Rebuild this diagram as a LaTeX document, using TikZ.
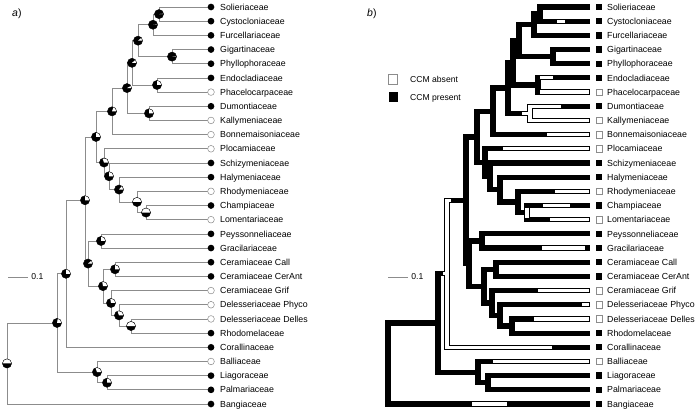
\documentclass[tikz,border=0pt]{standalone}
\usepackage{fontspec}
\setmainfont{Liberation Sans}
\usetikzlibrary{calc}

\newcommand\taxfont{\fontsize{8.8}{10}\selectfont}
\newcommand\keyfont{\fontsize{8.6}{10}\selectfont}

% positions of tips and nodes, #1 = prefix, #2 = shift
\newcommand\treecoords[2]{%
  \begin{scope}[xshift=#2]
    \foreach \i in {1,...,29}
      \coordinate (#1t\i) at (209,{7+(\i-1)*14.1786});
    \foreach \n/\nx/\ny in {A/159/14.09, B/153/24.73, D/172/56.63, C/138/40.68,
        F/157/84.98, E/132/62.83, H/149/113.34, G/127/88.09, I/112/111.35,
        O/146/212.59, N/137/201.96, M/119/189.55, L/109/176.26, K/104/162.53,
        J/96/136.94, R/101/240.95, T/115/269.3, W/131/326.02, V/119/315.39,
        U/111/302.98, S/103/286.14, Q/88/263.55, P/85/200.25, X/66/273.77,
        AA/107/382.73, Z/97/372.1, Y/57/322.94, root/7/363.47}
      \coordinate (#1\n) at (\nx,\ny);
  \end{scope}}

% one bracket per node
\newcommand\treebranches[2]{%
  \foreach \n/\a/\b in {A/t1/t2, B/A/t3, D/t4/t5, C/B/D, F/t6/t7, E/C/F,
      H/t8/t9, G/E/H, I/G/t10, O/t15/t16, N/t14/O, M/t13/N, L/t12/M,
      K/t11/L, J/I/K, R/t17/t18, T/t19/t20, W/t23/t24, V/t22/W, U/t21/V,
      S/T/U, Q/R/S, P/J/Q, X/P/t25, AA/t27/t28, Z/t26/AA, Y/X/Z, root/Y/t29}
    \draw[#2] (#1\a) -- (#1\n |- #1\a) -- (#1\n |- #1\b) -- (#1\b);}

\tikzset{
  branch/.style={draw=black!45, line width=0.7pt, line join=miter},
  mapbranch/.style={draw=black, line width=5.2pt, line join=miter},
  absent/.style={draw=white, line width=3.2pt, line join=miter},
  taxon/.style={anchor=base west, inner sep=0pt, font=\taxfont},
  tipdot/.style={circle, inner sep=0pt, minimum size=6.7pt, line width=0.5pt},
  tipsq/.style={rectangle, inner sep=0pt, minimum size=6.4pt, line width=0.5pt},
  keybox/.style={rectangle, inner sep=0pt, minimum width=9pt, minimum height=10pt, line width=0.5pt},
  state1/.style={fill=black},
  state0/.style={fill=white, draw=black!45},
  panel/.style={anchor=base west, inner sep=0pt, font=\fontsize{10.5}{12}\selectfont}
}

\begin{document}
\begin{tikzpicture}[x=1pt, y=-1pt]
  \useasboundingbox (0,0) rectangle (700,413);

  \treecoords{a}{0}
  \treecoords{b}{381}

  % a) tree with node pies
  \node[panel] (panela) at (12,16) {\textit{a})};
  \treebranches{a}{branch}
  \foreach \n/\ang in {A/6, B/6, C/40, D/6, E/40, F/90, G/30, H/90, I/70,
      J/90, K/110, L/90, M/50, N/180, O/180, P/90, Q/40, R/90, S/100,
      T/90, U/100, V/110, W/180, X/90, Y/80, Z/110, AA/90, root/180} {
    \fill[black] (a\n) circle (4.6pt);
    \fill[white] (a\n) -- ++(4.6pt,0pt) arc[start angle=0, end angle=\ang, radius=4.6pt] -- cycle;
    \draw[line width=0.4pt] (a\n) circle (4.6pt);
  }
  \draw[branch] (8,277) -- (28,277) node[anchor=west, inner sep=3pt, font=\keyfont] (scalea) {0.1};

  % b) mapped character
  \node[panel] (panelb) at (367,16) {\textit{b})};
  \treebranches{b}{mapbranch}
  \foreach \i/\from/\to in {2/33/25, 6/50/37, 7/50/1, 10/43/1, 11/87/1,
      14/35/1, 15/47/20, 16/40/1, 18/48/5, 21/52/1, 22/8/1, 23/56/1,
      26/97/1, 29/118/83}
    \draw[absent] ([xshift=-\from]bt\i) -- ([xshift=-\to]bt\i);
  \draw[absent] ([xshift=-29]bt8) -- (bH |- bt8) -- (bH |- bt9) -- ([xshift=-1]bt9);
  \draw[absent] ([xshift=-8]bH) -- (bH);
  \draw[absent] ($(bO |- bt15)+(0,2)$) -- ($(bO |- bt16)+(0,-2)$);
  \draw[absent] ($(bX |- bP)+(4,0)$) -- (bX |- bP) -- (bX |- bt25) -- ([xshift=-38]bt25);
  \draw[absent] ([xshift=-4]bX) -- (bX);
  \draw[branch] (388,277) -- (408,277) node[anchor=west, inner sep=3pt, font=\keyfont] (scaleb) {0.1};

  % Legend
  \node[keybox, state0] (keyabsent) at (393,79) {};
  \node[keybox, state1] (keypresent) at (393,97) {};
  \node[anchor=base west, inner sep=0pt, font=\keyfont] (textabsent) at (410,82.5) {CCM absent};
  \node[anchor=base west, inner sep=0pt, font=\keyfont] (textpresent) at (410,100) {CCM present};

  % Tips
  \foreach \i/\tname/\st in {1/Solieriaceae/1, 2/Cystocloniaceae/1,
      3/Furcellariaceae/1, 4/Gigartinaceae/1, 5/Phyllophoraceae/1,
      6/Endocladiaceae/1, 7/Phacelocarpaceae/0, 8/Dumontiaceae/1,
      9/Kallymeniaceae/0, 10/Bonnemaisoniaceae/0, 11/Plocamiaceae/0,
      12/Schizymeniaceae/1, 13/Halymeniaceae/1, 14/Rhodymeniaceae/0,
      15/Champiaceae/1, 16/Lomentariaceae/0, 17/Peyssonneliaceae/1,
      18/Gracilariaceae/1, 19/Ceramiaceae Call/1, 20/Ceramiaceae CerAnt/1,
      21/Ceramiaceae Grif/0, 22/Delesseriaceae Phyco/0,
      23/Delesseriaceae Delles/0, 24/Rhodomelaceae/1, 25/Corallinaceae/1,
      26/Balliaceae/0, 27/Liagoraceae/1, 28/Palmariaceae/1, 29/Bangiaceae/1} {
    \node[tipdot, state\st] (dot\i) at ([xshift=2]at\i) {};
    \node[taxon] (lta\i) at ([xshift=11, yshift=-3.15]at\i) {\tname};
    \node[tipsq, state\st] (sq\i) at ([xshift=9]bt\i) {};
    \node[taxon] (ltb\i) at ([xshift=17, yshift=-3.15]bt\i) {\tname};
  }
\end{tikzpicture}
\end{document}
